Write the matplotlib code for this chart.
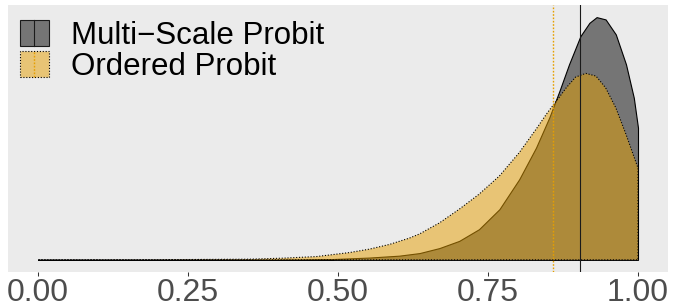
import numpy as np
import matplotlib
matplotlib.use('Agg')
import matplotlib.pyplot as plt
from matplotlib.patches import Rectangle
from matplotlib.lines import Line2D
from matplotlib.legend_handler import HandlerBase

matplotlib.rcParams['font.family'] = ['Liberation Sans', 'DejaVu Sans']

# density curves (x on [0, 1], density arbitrary units)
ms_x = [0.000, 0.186, 0.353, 0.436, 0.486, 0.552, 0.602, 0.636, 0.669, 0.702,
        0.735, 0.769, 0.802, 0.830, 0.852, 0.869, 0.885, 0.904, 0.919, 0.931,
        0.946, 0.963, 0.980, 0.993, 1.000]
ms_y = [0.000, 0.000, 0.002, 0.006, 0.014, 0.046, 0.084, 0.136, 0.236, 0.380,
        0.614, 1.014, 1.614, 2.246, 2.846, 3.380, 3.914, 4.480, 4.746, 4.860,
        4.814, 4.514, 3.914, 3.246, 2.646]

op_x = [0.000, 0.186, 0.353, 0.408, 0.464, 0.519, 0.552, 0.586, 0.619, 0.636,
        0.669, 0.702, 0.735, 0.769, 0.802, 0.830, 0.849, 0.869, 0.880, 0.896,
        0.913, 0.930, 0.946, 0.963, 0.980, 1.000]
op_y = [0.000, 0.002, 0.014, 0.034, 0.066, 0.146, 0.214, 0.310, 0.436, 0.520,
        0.740, 1.014, 1.314, 1.680, 2.146, 2.614, 2.946, 3.260, 3.440, 3.660,
        3.734, 3.680, 3.446, 3.046, 2.514, 1.840]

# reference lines (means)
ms_mean = 0.903
op_mean = 0.858

labels = ['Multi\u2212Scale Probit', 'Ordered Probit']
ticks = [0.0, 0.25, 0.5, 0.75, 1.0]
tick_labels = ['0.00', '0.25', '0.50', '0.75', '1.00']

ORANGE = '#E69F00'
DOT = (0, (1, 1.6))
VDOT = (0, (1.2, 1.2))


class KeyHandler(HandlerBase):
    # square fill key with a vertical line through the middle
    def create_artists(self, legend, orig_handle, xdescent, ydescent,
                       width, height, fontsize, trans):
        fprops, lprops = orig_handle
        x0, y0 = -xdescent, -ydescent
        r = Rectangle((x0, y0), width, height, transform=trans, **fprops)
        ln = Line2D([x0 + width / 2] * 2, [y0, y0 + height],
                    transform=trans, **lprops)
        return [r, ln]


fig = plt.figure(figsize=(6.75, 3.08), dpi=100)
ax = fig.add_axes([8 / 675, 36 / 308, 660 / 675, 267 / 308])
ax.set_facecolor('#EBEBEB')

ax.fill_between(ms_x, 0, ms_y, facecolor=(0, 0, 0, 0.5), edgecolor='black',
                linewidth=0.8, zorder=2)
ax.fill_between(op_x, 0, op_y, facecolor=matplotlib.colors.to_rgba(ORANGE, 0.5),
                edgecolor='black', linewidth=0.8, linestyle=DOT, zorder=3)

ax.axvline(ms_mean, color='#1A1A1A', linewidth=0.8, zorder=4)
ax.axvline(op_mean, color=ORANGE, linewidth=1.0, linestyle=VDOT, zorder=4)

ymax = max(ms_y)
ax.set_ylim(-0.05 * ymax, 1.05 * ymax)
ax.set_xlim(-0.05, 1.05)

ax.set_xticks(ticks)
ax.set_xticklabels(tick_labels)
ax.set_yticks([])
ax.tick_params(axis='x', length=3, width=0.75, color='#333333',
               labelsize=23, labelcolor='#4D4D4D', pad=1)
for s in ax.spines.values():
    s.set_visible(False)

h1 = (dict(facecolor=(0, 0, 0, 0.5), edgecolor='#1A1A1A', linewidth=0.8),
      dict(color='#1A1A1A', linewidth=0.8))
h2 = (dict(facecolor=matplotlib.colors.to_rgba(ORANGE, 0.5), edgecolor='black',
           linewidth=0.8, linestyle=DOT),
      dict(color=ORANGE, linewidth=1.0, linestyle=VDOT))
ax.legend([h1, h2], labels, handler_map={tuple: KeyHandler()},
          loc='upper left', bbox_to_anchor=(12 / 660, 1 - 15 / 267),
          frameon=False, fontsize=22.5, borderpad=0, borderaxespad=0,
          handlelength=0.92, handleheight=0.92, handletextpad=0.7,
          labelspacing=0.0)

fig.savefig('out.png', dpi=100)
